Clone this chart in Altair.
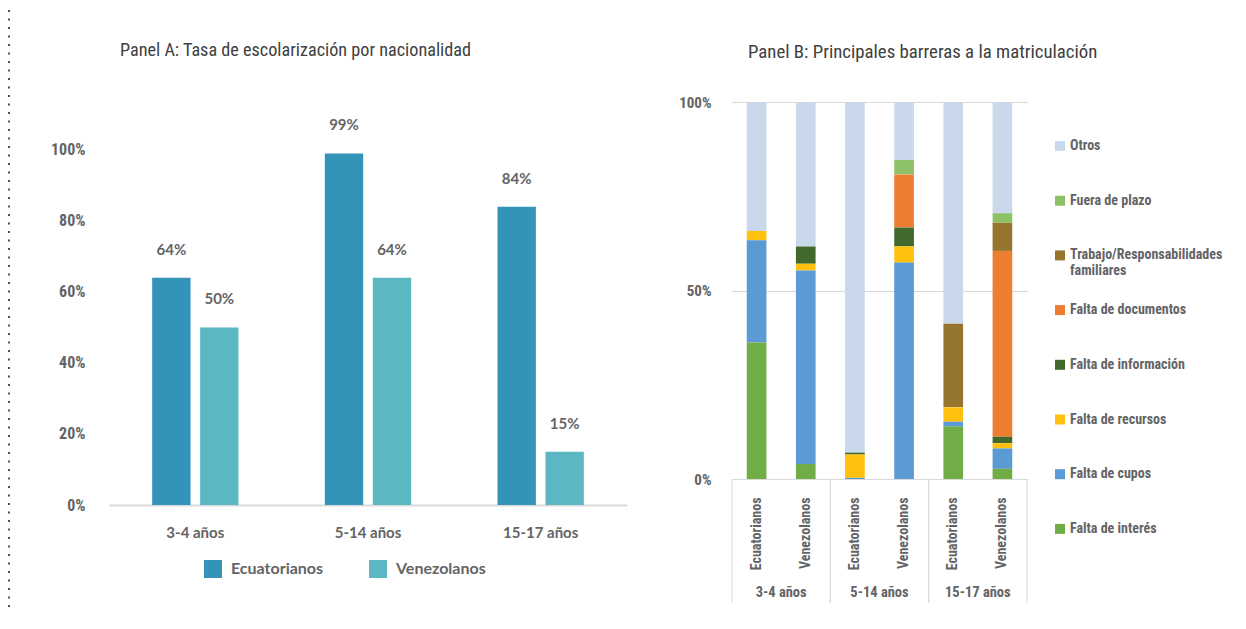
import altair as alt
import pandas as pd

FONT = "Noto Sans Condensed, Roboto Condensed, Roboto"
WIDE = "Lato, Roboto, DejaVu Sans"
GRAY = "#636466"
LINE = "#D9D9D9"

# ---------------- data ----------------
grupos = ["3-4 años", "5-14 años", "15-17 años"]
nacionalidades = ["Ecuatorianos", "Venezolanos"]
colores_nac = ["#3493B9", "#5BB7C1"]

# Panel A: tasa de escolarización (%)
tasa_ecuatorianos = [64, 99, 84]
tasa_venezolanos = [50, 64, 15]

# Panel B: barreras (%), bars in order Ecu 3-4, Ven 3-4, Ecu 5-14, Ven 5-14, Ecu 15-17, Ven 15-17
barreras = [
    "Otros",
    "Fuera de plazo",
    "Trabajo/Responsabilidades familiares",
    "Falta de documentos",
    "Falta de información",
    "Falta de recursos",
    "Falta de cupos",
    "Falta de interés",
]
colores_barreras = ["#C9D8EB", "#8CC168", "#96752F", "#ED7D31", "#43682B", "#FFC10E", "#5B9BD5", "#70AD47"]
falta_interes = [36.2, 4.0, 0.0, 0.0, 13.9, 2.7]
falta_cupos = [27.1, 51.3, 0.3, 57.4, 1.3, 5.4]
falta_recursos = [2.5, 1.8, 6.2, 4.3, 3.8, 1.4]
falta_informacion = [0.0, 4.6, 0.5, 5.0, 0.0, 1.7]
falta_documentos = [0.0, 0.0, 0.0, 14.1, 0.0, 49.3]
trabajo = [0.0, 0.0, 0.0, 0.0, 22.2, 7.5]
fuera_plazo = [0.0, 0.0, 0.0, 3.8, 0.0, 2.5]
otros = [34.2, 38.3, 93.0, 15.4, 58.8, 29.5]

# ---------------- tables ----------------
df_a = pd.DataFrame({
    "grupo": grupos * 2,
    "nacionalidad": [nacionalidades[0]] * 3 + [nacionalidades[1]] * 3,
    "tasa": tasa_ecuatorianos + tasa_venezolanos,
})
df_a["etiqueta"] = df_a["tasa"].astype(str) + "%"

barras = [g + "|" + n for g in grupos for n in nacionalidades]
series_b = [otros, fuera_plazo, trabajo, falta_documentos, falta_informacion,
            falta_recursos, falta_cupos, falta_interes]
rows = []
for k, (nombre, serie) in enumerate(zip(barreras, series_b)):
    for i, v in enumerate(serie):
        rows.append({
            "barra": barras[i],
            "barrera": nombre,
            "valor": v,
            "orden": len(barreras) - 1 - k,
        })
df_b = pd.DataFrame(rows)
df_grp = pd.DataFrame({"grupo": grupos})
df_one = pd.DataFrame({"k": [0]})

# ---------------- Panel A ----------------
W_A, H_A = 518, 403
Y_MAX_A = 113.5

xa = alt.X("grupo:N", sort=grupos, scale=alt.Scale(paddingInner=0, paddingOuter=0),
           axis=alt.Axis(title=None, labelAngle=0, ticks=False, domainColor=LINE, domainWidth=2,
                         labelFont=WIDE, labelFontSize=15, labelColor=GRAY, labelFontWeight="bold",
                         labelPadding=20, labelBaseline="top"))
xoa = alt.XOffset("nacionalidad:N", sort=nacionalidades,
                  scale=alt.Scale(paddingInner=0.2, paddingOuter=0.9))
ya = alt.Y("tasa:Q", scale=alt.Scale(domain=[0, Y_MAX_A], nice=False),
           axis=alt.Axis(title=None, values=[0, 20, 40, 60, 80, 100], labelExpr="datum.value + '%'",
                         grid=False, domain=False, ticks=False, labelPadding=24,
                         labelFont=FONT, labelFontSize=16, labelColor=GRAY, labelFontWeight="bold"))

bars_a = alt.Chart(df_a).mark_bar().encode(
    x=xa, xOffset=xoa, y=ya,
    color=alt.Color("nacionalidad:N", sort=nacionalidades,
                    scale=alt.Scale(domain=nacionalidades, range=colores_nac),
                    legend=alt.Legend(title=None, orient="none", legendX=95, legendY=458,
                                      direction="horizontal", symbolType="square", symbolSize=324,
                                      symbolStrokeWidth=0, labelFont=WIDE, labelFontSize=16,
                                      labelColor=GRAY, labelFontWeight="bold", columnPadding=45,
                                      labelOffset=9)),
)
text_a = alt.Chart(df_a).mark_text(dy=-28, baseline="middle", font=WIDE, fontSize=15,
                                   fontWeight="bold", color=GRAY).encode(
    x=xa, xOffset=xoa, y=ya, text="etiqueta:N")
dots = alt.Chart(df_one).mark_rule(color="#44546A", strokeWidth=2, strokeDash=[2, 6.5]).encode(
    x=alt.value(-100), y=alt.value(-92), y2=alt.value(H_A + 108))

panel_a = alt.layer(dots, bars_a, text_a).properties(
    width=W_A, height=H_A,
    title=alt.TitleParams("Panel A: Tasa de escolarización por nacionalidad", anchor="start",
                          frame="group", dx=11, offset=-51, fontSize=18.2, font=FONT,
                          fontWeight="normal", color="#404040"),
)

# ---------------- Panel B ----------------
W_B, H_B = 295, 377

bars_b = alt.Chart(df_b).mark_bar().encode(
    x=alt.X("barra:N", sort=barras, scale=alt.Scale(paddingInner=0.6, paddingOuter=0.3),
            axis=alt.Axis(title=None, labelExpr="split(datum.label, '|')[1]", labelAngle=270,
                          labelAlign="right", labelBaseline="middle", ticks=False,
                          domainColor=LINE, domainWidth=1, labelPadding=18,
                          labelFont=FONT, labelFontSize=14, labelColor=GRAY,
                          labelFontWeight="bold")),
    y=alt.Y("valor:Q", stack="zero", scale=alt.Scale(domain=[0, 100], nice=False),
            axis=alt.Axis(title=None, values=[0, 50, 100], labelExpr="datum.value + '%'",
                          grid=True, gridColor=LINE, domain=False, ticks=False, labelPadding=21,
                          labelFont=FONT, labelFontSize=15, labelColor=GRAY, labelFontWeight="bold")),
    color=alt.Color("barrera:N", scale=alt.Scale(domain=barreras, range=colores_barreras),
                    legend=alt.Legend(title=None, orient="none", legendX=321, legendY=37,
                                      direction="vertical",
                                      symbolType="square", symbolSize=100, symbolStrokeWidth=0,
                                      labelFont=FONT, labelFontSize=14, labelColor=GRAY,
                                      labelFontWeight="bold", labelLimit=300, labelOffset=3,
                                      rowPadding=24.7, gridAlign="all",
                                      labelExpr="datum.label == 'Trabajo/Responsabilidades familiares' ? ['Trabajo/Responsabilidades', 'familiares'] : datum.label")),
    order=alt.Order("orden:Q", sort="ascending"),
)
xg = dict(sort=grupos, scale=alt.Scale(paddingInner=0, paddingOuter=0), axis=None)
sep_l = alt.Chart(df_grp).mark_rule(color=LINE).encode(
    x=alt.X("grupo:N", bandPosition=0, **xg), y=alt.value(H_B), y2=alt.value(H_B + 124))
sep_r = alt.Chart(df_grp).mark_rule(color=LINE).encode(
    x=alt.X("grupo:N", bandPosition=1, **xg), y=alt.value(H_B), y2=alt.value(H_B + 124))
grp_b = alt.Chart(df_grp).mark_text(baseline="middle", font=FONT, fontSize=14.5, fontWeight="bold",
                                    color=GRAY).encode(
    x=alt.X("grupo:N", **xg), y=alt.value(H_B + 114), text="grupo:N")

panel_b = alt.layer(bars_b, sep_l, sep_r, grp_b).resolve_scale(x="independent").properties(
    width=W_B, height=H_B,
    title=alt.TitleParams("Panel B: Principales barreras a la matriculación", anchor="start",
                          frame="group", dx=16, offset=33, fontSize=18.8, font=FONT,
                          fontWeight="normal", color="#404040"),
)

chart = alt.hconcat(panel_a, panel_b, spacing=51).resolve_scale(
    color="independent"
).properties(
    padding={"left": 0, "top": 1, "right": 5, "bottom": 0}
).configure_view(strokeWidth=0)

chart.save("out.html", embed_options={"renderer": "svg", "actions": False})
